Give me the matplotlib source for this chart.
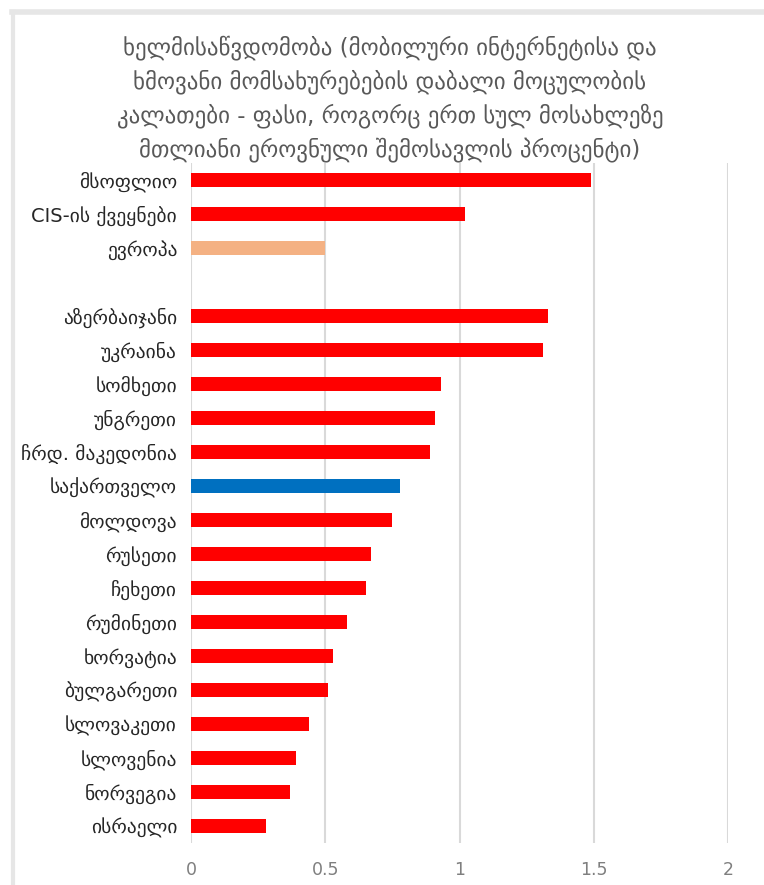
import matplotlib
matplotlib.use("Agg")
import matplotlib.pyplot as plt
from matplotlib.lines import Line2D

plt.rcParams['font.family'] = ['DejaVu Sans']

title = ("ხელმისაწვდომობა (მობილური ინტერნეტისა და\n"
         "ხმოვანი მომსახურებების დაბალი მოცულობის\n"
         "კალათები - ფასი, როგორც ერთ სულ მოსახლეზე\n"
         "მთლიანი ეროვნული შემოსავლის პროცენტი)")

categories = ["მსოფლიო", "CIS-ის ქვეყნები", "ევროპა", "",
              "აზერბაიჯანი", "უკრაინა", "სომხეთი", "უნგრეთი",
              "ჩრდ. მაკედონია", "საქართველო", "მოლდოვა", "რუსეთი",
              "ჩეხეთი", "რუმინეთი", "ხორვატია", "ბულგარეთი",
              "სლოვაკეთი", "სლოვენია", "ნორვეგია", "ისრაელი"]
values = [1.49, 1.02, 0.50, 0.0,
          1.33, 1.31, 0.93, 0.91,
          0.89, 0.78, 0.75, 0.67,
          0.65, 0.58, 0.53, 0.51,
          0.44, 0.39, 0.37, 0.28]
colors = ["#FF0000", "#FF0000", "#F4B183", "#FF0000",
          "#FF0000", "#FF0000", "#FF0000", "#FF0000",
          "#FF0000", "#0070C0", "#FF0000", "#FF0000",
          "#FF0000", "#FF0000", "#FF0000", "#FF0000",
          "#FF0000", "#FF0000", "#FF0000", "#FF0000"]
xticks = [0, 0.5, 1, 1.5, 2]
xticklabels = ["0", "0.5", "1", "1.5", "2"]

fig = plt.figure(figsize=(7.64, 8.85), dpi=100)
W, H = 764, 885
ax = fig.add_axes([191 / W, 1 - 843 / H, (728 - 191) / W, (843 - 163) / H])

ypos = list(range(len(categories)))
ax.barh(ypos, values, height=0.39, color=colors, zorder=3)
ax.set_xlim(0, 2)
ax.set_ylim(len(categories) - 0.5, -0.5)
ax.set_yticks(ypos)
ax.set_yticklabels(categories, fontsize=14, color="#262626")
ax.set_xticks(xticks)
ax.set_xticklabels(xticklabels, fontsize=12.5, color="#7F7F7F")
ax.tick_params(axis='y', length=0, pad=10)
ax.tick_params(axis='x', length=0, pad=13)
ax.grid(axis='x', color="#D9D9D9", linewidth=1.5, zorder=0)
for s in ax.spines.values():
    s.set_visible(False)

fig.text(390 / W, 1 - 99 / H, title, ha='center', va='center',
         fontsize=16.5, color="#595959", linespacing=1.5)

# chart frame edges (light gray)
fig.add_artist(Line2D([12 / W, 1], [1 - 12 / H, 1 - 12 / H], color="#E6E6E6", lw=4, transform=fig.transFigure))
fig.add_artist(Line2D([13 / W, 13 / W], [0, 1 - 12 / H], color="#E6E6E6", lw=3, transform=fig.transFigure))

fig.savefig("out.png", dpi=100)
